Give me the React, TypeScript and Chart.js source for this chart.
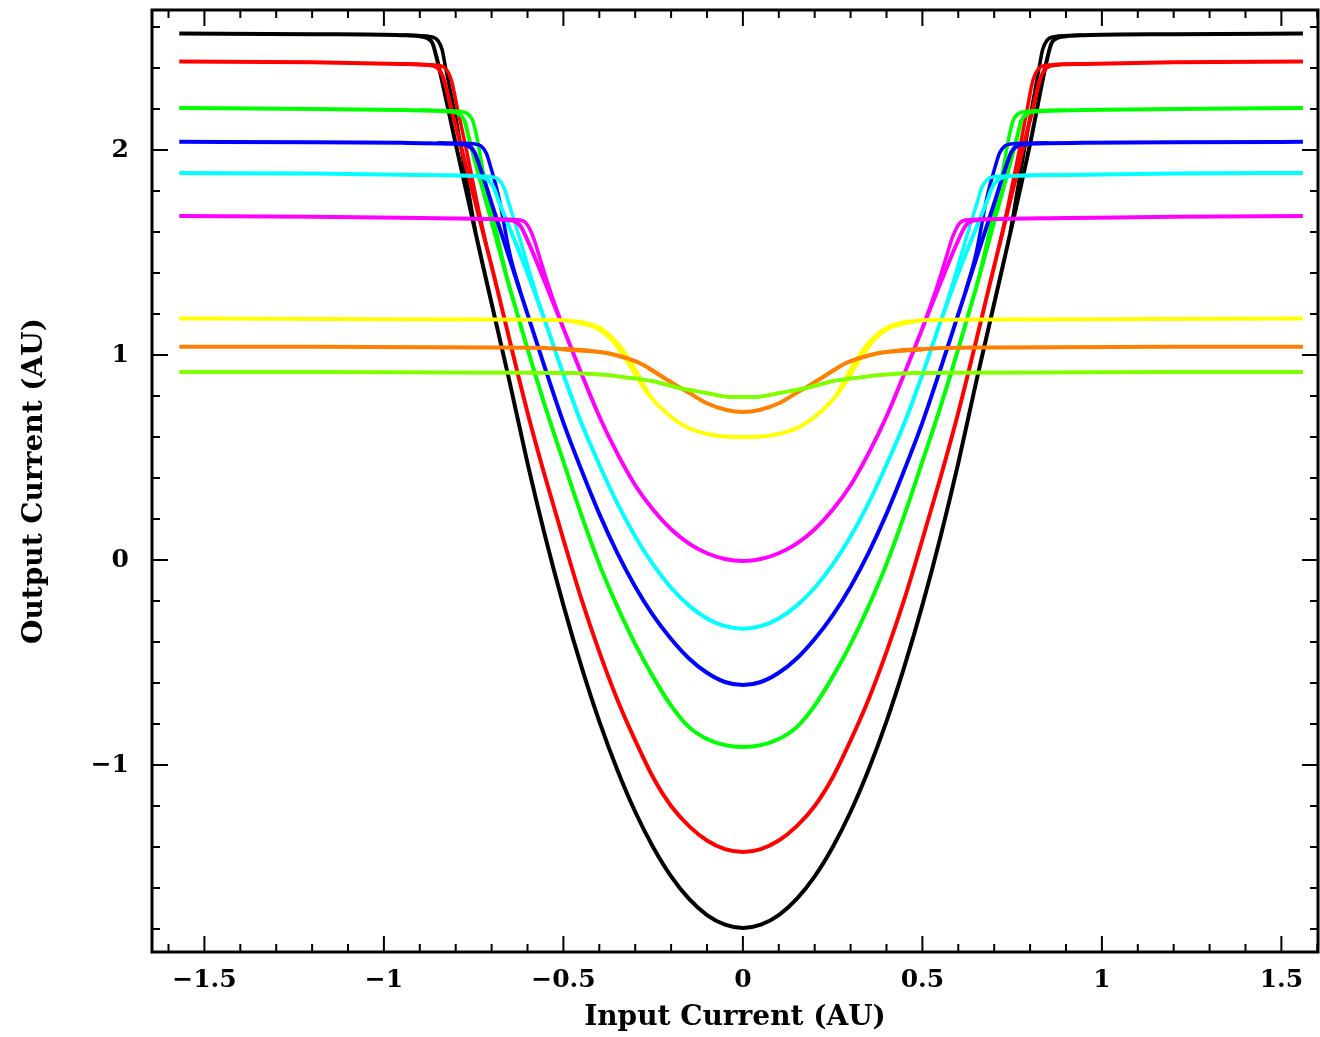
import React, { useEffect, useRef } from "react";
import { Chart, registerables } from "chart.js";

Chart.register(...registerables);

type P = [number, number | null];

// ---- axis ranges / ticks ----
const X_MIN = -1.646;
const X_MAX = 1.602;
const Y_MIN = -1.912;
const Y_MAX = 2.683;
const X_TICKS = [-1.5, -1, -0.5, 0, 0.5, 1, 1.5];
const Y_TICKS = [-1, 0, 1, 2];
const X_MINOR = 0.1;
const Y_MINOR = 0.2;
const X_TITLE = "Input Current (AU)";
const Y_TITLE = "Output Current (AU)";

// ---- series (main sweep) ----
const BLACK_MAIN: P[] = [
  [-1.57, 2.568], [-1.2, 2.565], [-0.95, 2.56], [-0.9, 2.555], [-0.88, 2.546], [-0.865, 2.522], [-0.855, 2.463],
  [-0.8, 2.03], [-0.726, 1.45], [-0.65, 0.87], [-0.6, 0.473], [-0.55, 0.11], [-0.5, -0.22], [-0.45, -0.519],
  [-0.4, -0.787], [-0.35, -1.023], [-0.3, -1.228], [-0.25, -1.401], [-0.2, -1.543], [-0.15, -1.653], [-0.1, -1.732],
  [-0.05, -1.779], [0, -1.795],
  [0.05, -1.779], [0.1, -1.732], [0.15, -1.653], [0.2, -1.543], [0.25, -1.401], [0.3, -1.228], [0.35, -1.023],
  [0.4, -0.787], [0.45, -0.519], [0.5, -0.22], [0.55, 0.11], [0.6, 0.473], [0.65, 0.87], [0.726, 1.45], [0.8, 2.03],
  [0.85, 2.463], [0.86, 2.522], [0.875, 2.546], [0.9, 2.555], [0.95, 2.56], [1.2, 2.565], [1.56, 2.568],
];
const RED_MAIN: P[] = [
  [-1.57, 2.432], [-1.2, 2.428], [-0.95, 2.42], [-0.88, 2.415], [-0.85, 2.4], [-0.832, 2.34], [-0.815, 2.22],
  [-0.701, 1.44], [-0.6, 0.72], [-0.55, 0.4], [-0.5, 0.1], [-0.45, -0.19], [-0.4, -0.448], [-0.35, -0.68],
  [-0.3, -0.88], [-0.25, -1.061], [-0.2, -1.2], [-0.15, -1.298], [-0.1, -1.368], [-0.05, -1.41], [0, -1.424],
  [0.05, -1.41], [0.1, -1.368], [0.15, -1.298], [0.2, -1.2], [0.25, -1.061], [0.3, -0.88], [0.35, -0.68],
  [0.4, -0.448], [0.45, -0.19], [0.5, 0.1], [0.55, 0.4], [0.6, 0.72], [0.701, 1.44], [0.81, 2.22], [0.827, 2.34],
  [0.845, 2.4], [0.875, 2.415], [0.95, 2.42], [1.2, 2.428], [1.56, 2.432],
];
const GREEN_MAIN: P[] = [
  [-1.57, 2.205], [-1.2, 2.2], [-0.95, 2.195], [-0.82, 2.188], [-0.79, 2.175], [-0.775, 2.14], [-0.765, 2.07],
  [-0.7, 1.65], [-0.65, 1.33], [-0.6, 1.03], [-0.55, 0.745], [-0.5, 0.48], [-0.45, 0.22], [-0.4, -0.02],
  [-0.35, -0.226], [-0.3, -0.41], [-0.25, -0.57], [-0.2, -0.71], [-0.15, -0.815], [-0.1, -0.873], [-0.05, -0.903],
  [0, -0.912],
  [0.05, -0.903], [0.1, -0.873], [0.15, -0.815], [0.2, -0.71], [0.25, -0.57], [0.3, -0.41], [0.35, -0.226],
  [0.4, -0.02], [0.45, 0.22], [0.5, 0.48], [0.55, 0.745], [0.6, 1.03], [0.65, 1.33], [0.7, 1.65], [0.765, 2.07],
  [0.775, 2.14], [0.79, 2.175], [0.82, 2.188], [0.95, 2.195], [1.2, 2.2], [1.56, 2.205],
];
const BLUE_MAIN: P[] = [
  [-1.57, 2.04], [-1.2, 2.038], [-0.95, 2.035], [-0.8, 2.03], [-0.765, 2.02], [-0.748, 1.99], [-0.735, 1.93],
  [-0.7, 1.74], [-0.65, 1.47], [-0.6, 1.2], [-0.55, 0.93], [-0.5, 0.67], [-0.45, 0.44], [-0.4, 0.225],
  [-0.35, 0.035], [-0.3, -0.13], [-0.25, -0.27], [-0.2, -0.385], [-0.15, -0.48], [-0.1, -0.55], [-0.05, -0.595],
  [0, -0.61],
  [0.05, -0.595], [0.1, -0.55], [0.15, -0.48], [0.2, -0.385], [0.25, -0.27], [0.3, -0.13], [0.35, 0.035],
  [0.4, 0.225], [0.45, 0.44], [0.5, 0.67], [0.55, 0.93], [0.6, 1.2], [0.65, 1.47], [0.7, 1.74], [0.735, 1.93],
  [0.748, 1.99], [0.765, 2.02], [0.8, 2.03], [0.95, 2.035], [1.2, 2.038], [1.56, 2.04],
];
const CYAN_MAIN: P[] = [
  [-1.57, 1.888], [-1.2, 1.885], [-0.9, 1.878], [-0.75, 1.873], [-0.715, 1.86], [-0.695, 1.82], [-0.68, 1.75],
  [-0.65, 1.62], [-0.6, 1.4], [-0.55, 1.16], [-0.5, 0.905], [-0.45, 0.668], [-0.4, 0.465], [-0.35, 0.2775],
  [-0.3, 0.115], [-0.25, -0.0225], [-0.2, -0.135], [-0.15, -0.2225], [-0.1, -0.285], [-0.05, -0.3225], [0, -0.335],
  [0.05, -0.3225], [0.1, -0.285], [0.15, -0.2225], [0.2, -0.135], [0.25, -0.0225], [0.3, 0.115], [0.35, 0.2775],
  [0.4, 0.465], [0.45, 0.668], [0.5, 0.905], [0.55, 1.16], [0.6, 1.4], [0.65, 1.62], [0.68, 1.75], [0.695, 1.82],
  [0.715, 1.86], [0.75, 1.873], [0.9, 1.878], [1.2, 1.885], [1.56, 1.888],
];
const MAGENTA_MAIN: P[] = [
  [-1.57, 1.678], [-1.2, 1.675], [-0.9, 1.668], [-0.7, 1.663], [-0.64, 1.655], [-0.62, 1.63], [-0.6, 1.56],
  [-0.55, 1.35], [-0.5, 1.13], [-0.45, 0.91], [-0.4, 0.7], [-0.35, 0.52], [-0.3, 0.365], [-0.25, 0.245],
  [-0.2, 0.15], [-0.15, 0.08], [-0.1, 0.033], [-0.05, 0.005], [0, -0.005],
  [0.05, 0.005], [0.1, 0.033], [0.15, 0.08], [0.2, 0.15], [0.25, 0.245], [0.3, 0.365], [0.35, 0.52], [0.4, 0.7],
  [0.45, 0.91], [0.5, 1.13], [0.55, 1.35], [0.6, 1.56], [0.62, 1.63], [0.64, 1.655], [0.7, 1.663], [0.9, 1.668],
  [1.2, 1.675], [1.56, 1.678],
];
const YELLOW_MAIN: P[] = [
  [-1.57, 1.178], [-1.2, 1.176], [-0.7, 1.173], [-0.5, 1.17], [-0.455, 1.156], [-0.408, 1.132], [-0.364, 1.073],
  [-0.325, 0.976], [-0.266, 0.815], [-0.213, 0.717], [-0.157, 0.649], [-0.085, 0.61], [0, 0.6],
  [0.085, 0.61], [0.157, 0.649], [0.213, 0.717], [0.266, 0.815], [0.325, 0.976], [0.364, 1.073], [0.408, 1.132],
  [0.455, 1.156], [0.5, 1.17], [0.7, 1.173], [1.2, 1.176], [1.56, 1.178],
];
const ORANGE_MAIN: P[] = [
  [-1.57, 1.04], [-1.2, 1.04], [-0.7, 1.037], [-0.55, 1.034], [-0.475, 1.024], [-0.38, 1.01], [-0.336, 0.99],
  [-0.288, 0.961], [-0.241, 0.912], [-0.196, 0.863], [-0.149, 0.815], [-0.102, 0.766], [-0.046, 0.732], [0, 0.722],
  [0.046, 0.732], [0.102, 0.766], [0.149, 0.815], [0.196, 0.863], [0.241, 0.912], [0.288, 0.961], [0.336, 0.99],
  [0.38, 1.01], [0.475, 1.024], [0.55, 1.034], [0.7, 1.037], [1.2, 1.04], [1.56, 1.04],
];
const LIME_MAIN: P[] = [
  [-1.57, 0.917], [-1.2, 0.917], [-0.6, 0.914], [-0.475, 0.912], [-0.38, 0.902], [-0.336, 0.893], [-0.252, 0.873],
  [-0.177, 0.839], [-0.102, 0.815], [-0.046, 0.797], [0, 0.795],
  [0.046, 0.797], [0.102, 0.815], [0.177, 0.839], [0.252, 0.873], [0.336, 0.893], [0.38, 0.902], [0.475, 0.912],
  [0.6, 0.914], [1.2, 0.917], [1.56, 0.917],
];

// ---- return sweep (hysteresis branch near the knees) ----
const BLACK_RET: P[] = [
  [-0.95, 2.56], [-0.87, 2.553], [-0.85, 2.535], [-0.838, 2.49], [-0.828, 2.4], [-0.8, 2.16], [-0.77, 1.86], [-0.745, 1.6],
  [0, null],
  [0.745, 1.6], [0.77, 1.86], [0.8, 2.16], [0.825, 2.4], [0.835, 2.49], [0.847, 2.535], [0.867, 2.553], [0.95, 2.56],
];
const RED_RET: P[] = [
  [-0.95, 2.42], [-0.86, 2.415], [-0.83, 2.4], [-0.812, 2.34], [-0.795, 2.2], [-0.77, 2.0], [-0.74, 1.74], [-0.715, 1.536],
  [0, null],
  [0.715, 1.536], [0.74, 1.74], [0.77, 2.0], [0.792, 2.2], [0.808, 2.34], [0.826, 2.4], [0.856, 2.415], [0.95, 2.42],
];
const GREEN_RET: P[] = [
  [-0.9, 2.195], [-0.8, 2.19], [-0.77, 2.18], [-0.752, 2.14], [-0.742, 2.07], [-0.72, 1.86], [-0.69, 1.63], [-0.66, 1.394],
  [0, null],
  [0.66, 1.394], [0.69, 1.63], [0.72, 1.86], [0.742, 2.07], [0.752, 2.14], [0.77, 2.18], [0.8, 2.19], [0.9, 2.195],
];
const BLUE_RET: P[] = [
  [-0.85, 2.035], [-0.75, 2.03], [-0.73, 2.02], [-0.715, 1.985], [-0.703, 1.92], [-0.68, 1.77], [-0.65, 1.5], [-0.62, 1.308],
  [0, null],
  [0.62, 1.308], [0.65, 1.5], [0.68, 1.77], [0.703, 1.92], [0.715, 1.985], [0.73, 2.02], [0.75, 2.03], [0.85, 2.035],
];
const CYAN_RET: P[] = [
  [-0.8, 1.875], [-0.7, 1.87], [-0.68, 1.855], [-0.665, 1.815], [-0.652, 1.74], [-0.62, 1.56], [-0.59, 1.38], [-0.56, 1.208],
  [0, null],
  [0.56, 1.208], [0.59, 1.38], [0.62, 1.56], [0.652, 1.74], [0.665, 1.815], [0.68, 1.855], [0.7, 1.87], [0.8, 1.875],
];
const MAGENTA_RET: P[] = [
  [-0.75, 1.665], [-0.63, 1.66], [-0.605, 1.645], [-0.585, 1.58], [-0.565, 1.47], [-0.54, 1.33], [-0.5, 1.13],
  [0, null],
  [0.5, 1.13], [0.54, 1.33], [0.565, 1.47], [0.585, 1.58], [0.605, 1.645], [0.63, 1.66], [0.75, 1.665],
];
const YELLOW_RET: P[] = [
  [-0.5, 1.17], [-0.44, 1.158], [-0.395, 1.13], [-0.35, 1.06], [-0.31, 0.96], [-0.26, 0.804],
  [0, null],
  [0.26, 0.804], [0.31, 0.96], [0.35, 1.06], [0.395, 1.13], [0.44, 1.158], [0.5, 1.17],
];
const ORANGE_RET: P[] = [
  [-0.5, 1.032], [-0.43, 1.022], [-0.36, 1.003], [-0.31, 0.978], [-0.265, 0.94], [-0.22, 0.889],
  [0, null],
  [0.22, 0.889], [0.265, 0.94], [0.31, 0.978], [0.36, 1.003], [0.43, 1.022], [0.5, 1.032],
];

const SERIES = [
  { name: "black", color: "#000000", main: BLACK_MAIN, ret: BLACK_RET },
  { name: "red", color: "#ff0000", main: RED_MAIN, ret: RED_RET },
  { name: "green", color: "#00ff00", main: GREEN_MAIN, ret: GREEN_RET },
  { name: "blue", color: "#0000ff", main: BLUE_MAIN, ret: BLUE_RET },
  { name: "cyan", color: "#00ffff", main: CYAN_MAIN, ret: CYAN_RET },
  { name: "magenta", color: "#ff00ff", main: MAGENTA_MAIN, ret: MAGENTA_RET },
  { name: "yellow", color: "#ffff00", main: YELLOW_MAIN, ret: YELLOW_RET },
  { name: "orange", color: "#ff8000", main: ORANGE_MAIN, ret: ORANGE_RET },
  { name: "lime", color: "#80ff00", main: LIME_MAIN, ret: [] as P[] },
];

const FONT = "'DejaVu Serif', serif";

const fmt = (v: number) => (v < 0 ? "\u2212" : "") + String(Math.abs(v));

const framePlugin = {
  id: "pgFrame",
  afterDatasetsDraw(chart: any) {
    const { ctx, chartArea } = chart;
    const { left, right, top, bottom } = chartArea;
    const xs = chart.scales.x;
    const ys = chart.scales.y;
    ctx.save();
    ctx.strokeStyle = "#000";
    ctx.lineWidth = 2;
    ctx.beginPath();
    const x0 = Math.ceil(X_MIN / X_MINOR - 1e-6);
    const x1 = Math.floor(X_MAX / X_MINOR + 1e-6);
    for (let i = x0; i <= x1; i++) {
      const p = xs.getPixelForValue(i * X_MINOR);
      const len = i % 5 === 0 ? 16 : 8;
      ctx.moveTo(p, bottom);
      ctx.lineTo(p, bottom - len);
      ctx.moveTo(p, top);
      ctx.lineTo(p, top + len);
    }
    const y0 = Math.ceil(Y_MIN / Y_MINOR - 1e-6);
    const y1 = Math.floor(Y_MAX / Y_MINOR + 1e-6);
    for (let i = y0; i <= y1; i++) {
      const p = ys.getPixelForValue(i * Y_MINOR);
      const len = i % 5 === 0 ? 16 : 8;
      ctx.moveTo(left, p);
      ctx.lineTo(left + len, p);
      ctx.moveTo(right, p);
      ctx.lineTo(right - len, p);
    }
    ctx.stroke();
    ctx.lineWidth = 3;
    ctx.strokeRect(left, top, right - left, bottom - top);
    ctx.restore();
  },
};

export default function App() {
  const ref = useRef<HTMLCanvasElement | null>(null);

  useEffect(() => {
    document.body.style.margin = "0";
    const canvas = ref.current;
    if (!canvas) return;

    const datasets: any[] = [];
    const ordered = [...SERIES].reverse();
    ordered.forEach((s) => {
      datasets.push({
        label: s.name,
        data: s.main.map(([x, y]) => ({ x, y })),
        borderColor: s.color,
        borderWidth: 4,
        pointRadius: 0,
        cubicInterpolationMode: "monotone",
        spanGaps: false,
        fill: false,
      });
      if (s.ret.length) {
        datasets.push({
          label: s.name + " return",
          data: s.ret.map(([x, y]) => ({ x, y })),
          borderColor: s.color,
          borderWidth: 3.5,
          pointRadius: 0,
          cubicInterpolationMode: "monotone",
          spanGaps: false,
          fill: false,
        });
      }
    });

    const tickFont = { family: FONT, size: 25, weight: "bold", lineHeight: 0.8 };
    const titleFont = { family: FONT, size: 28, weight: "bold", lineHeight: 1 };
    const hiddenGrid = (len: number) => ({
      display: true,
      drawOnChartArea: false,
      drawTicks: true,
      tickLength: len,
      color: "rgba(0,0,0,0)",
    });

    const chart = new Chart(canvas, {
      type: "line",
      data: { datasets },
      plugins: [framePlugin],
      options: {
        animation: false,
        responsive: false,
        devicePixelRatio: 1,
        layout: { padding: { top: 10, right: 2, left: 0, bottom: 0 } },
        plugins: {
          legend: { display: false },
          tooltip: { enabled: false },
          title: { display: false },
        },
        scales: {
          x: {
            type: "linear",
            position: "bottom",
            min: X_MIN,
            max: X_MAX,
            grid: hiddenGrid(18),
            border: { display: false },
            afterBuildTicks: (scale: any) => {
              scale.ticks = X_TICKS.map((v) => ({ value: v }));
            },
            afterFit: (scale: any) => {
              scale.height = 85;
            },
            ticks: {
              autoSkip: false,
              maxRotation: 0,
              minRotation: 0,
              padding: 0,
              color: "#000",
              font: tickFont,
              callback: (v: any) => fmt(Number(v)),
            },
            title: {
              display: true,
              text: X_TITLE,
              color: "#000",
              font: titleFont,
              padding: { top: 0, bottom: 5 },
            },
          },
          y: {
            type: "linear",
            position: "left",
            min: Y_MIN,
            max: Y_MAX,
            grid: hiddenGrid(23),
            border: { display: false },
            afterBuildTicks: (scale: any) => {
              scale.ticks = Y_TICKS.map((v) => ({ value: v }));
            },
            afterFit: (scale: any) => {
              scale.width = 152;
            },
            ticks: {
              autoSkip: false,
              padding: 0,
              color: "#000",
              font: tickFont,
              callback: (v: any) => fmt(Number(v)),
            },
            title: {
              display: true,
              text: Y_TITLE,
              color: "#000",
              font: titleFont,
              padding: { top: 21, bottom: 0 },
            },
          },
        },
      },
    } as any);

    return () => {
      chart.destroy();
    };
  }, []);

  return (
    <div style={{ position: "absolute", left: 0, top: 0, width: 1320, height: 1037, background: "#fff" }}>
      <canvas ref={ref} width={1320} height={1037} style={{ display: "block" }} />
    </div>
  );
}
